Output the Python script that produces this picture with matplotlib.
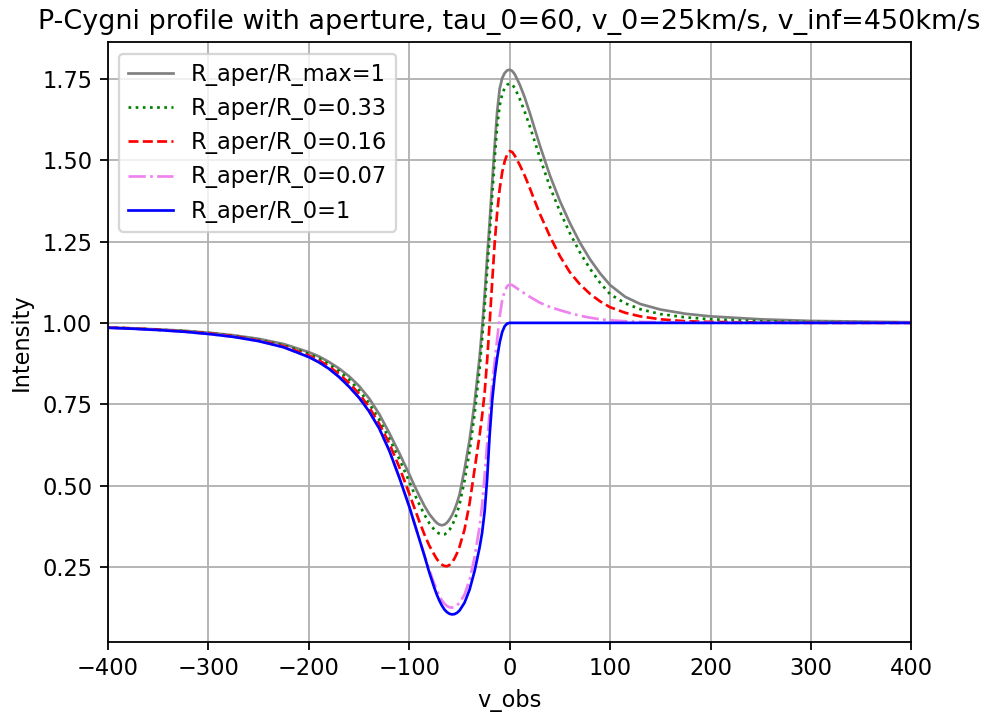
import matplotlib
matplotlib.use("Agg")
import matplotlib.pyplot as plt

# observed velocity grid (km/s)
v_obs = [-400, -375, -350, -325, -300, -275, -250, -225, -200,
         -190, -180, -170, -160, -150, -140, -130, -120, -110, -100,
         -95, -90, -85, -80, -75,
         -72.5, -70, -67.5, -65, -62.5, -60, -57.5, -55, -52.5, -50,
         -45, -40, -35, -30,
         -27.5, -25, -22.5, -20, -17.5, -15, -12.5, -10, -7.5, -5, -2.5,
         0, 2.5, 5,
         10, 15, 20, 25, 30,
         40, 50, 60, 70, 80, 90, 100,
         115, 130, 150, 175, 200,
         250, 300, 350, 400]

I_max_full = [0.986, 0.983, 0.980, 0.976, 0.970, 0.962, 0.951, 0.935, 0.910,
              0.897, 0.880, 0.860, 0.836, 0.806, 0.768, 0.720, 0.662, 0.600, 0.535,
              0.500, 0.468, 0.438, 0.412, 0.393,
              0.385, 0.380, 0.378, 0.380, 0.386, 0.396, 0.409, 0.426, 0.447, 0.472,
              0.550, 0.640, 0.755, 0.895,
              0.985, 1.085, 1.200, 1.310, 1.430, 1.545, 1.650, 1.720, 1.752, 1.768, 1.776,
              1.778, 1.774, 1.764,
              1.732, 1.692, 1.645, 1.595, 1.545,
              1.453, 1.374, 1.306, 1.246, 1.195, 1.152, 1.116,
              1.080, 1.058, 1.041, 1.028, 1.020,
              1.011, 1.006, 1.004, 1.002]

I_033 = [0.986, 0.983, 0.979, 0.975, 0.969, 0.960, 0.948, 0.931, 0.905,
         0.891, 0.873, 0.852, 0.826, 0.793, 0.753, 0.703, 0.645, 0.582, 0.512,
         0.475, 0.442, 0.411, 0.384, 0.364,
         0.357, 0.352, 0.349, 0.350, 0.355, 0.364, 0.377, 0.394, 0.416, 0.442,
         0.515, 0.605, 0.720, 0.860,
         0.950, 1.050, 1.160, 1.270, 1.390, 1.505, 1.605, 1.668, 1.703, 1.722, 1.732,
         1.736, 1.732, 1.722,
         1.688, 1.648, 1.604, 1.556, 1.508,
         1.418, 1.342, 1.275, 1.216, 1.166, 1.123, 1.088,
         1.060, 1.042, 1.027, 1.017, 1.011,
         1.005, 1.003, 1.002, 1.001]

I_016 = [0.986, 0.983, 0.979, 0.974, 0.968, 0.959, 0.946, 0.928, 0.900,
         0.885, 0.866, 0.843, 0.815, 0.782, 0.741, 0.690, 0.630, 0.557, 0.475,
         0.432, 0.390, 0.350, 0.315, 0.287,
         0.274, 0.264, 0.257, 0.253, 0.252, 0.256, 0.264, 0.276, 0.292, 0.312,
         0.365, 0.445, 0.550, 0.655,
         0.715, 0.785, 0.885, 1.000, 1.125, 1.245, 1.340, 1.412, 1.463, 1.497, 1.518,
         1.528, 1.525, 1.514,
         1.485, 1.452, 1.414, 1.374, 1.335,
         1.266, 1.205, 1.155, 1.118, 1.089, 1.066, 1.048,
         1.031, 1.020, 1.011, 1.005, 1.003,
         1.001, 1.000, 1.000, 1.000]

I_007 = [0.985, 0.982, 0.978, 0.973, 0.966, 0.957, 0.944, 0.925, 0.895,
         0.879, 0.859, 0.834, 0.804, 0.770, 0.728, 0.676, 0.608, 0.525, 0.435,
         0.385, 0.336, 0.287, 0.240, 0.197,
         0.178, 0.161, 0.147, 0.137, 0.130, 0.126, 0.125, 0.127, 0.132, 0.140,
         0.165, 0.210, 0.280, 0.375,
         0.440, 0.530, 0.630, 0.725, 0.810, 0.880, 0.950, 1.020, 1.070, 1.098, 1.113,
         1.118, 1.116, 1.111,
         1.100, 1.090, 1.080, 1.071, 1.062,
         1.049, 1.039, 1.030, 1.022, 1.016, 1.011, 1.008,
         1.005, 1.003, 1.002, 1.001, 1.000,
         1.000, 1.000, 1.000, 1.000]

I_r0_1 = [0.985, 0.982, 0.978, 0.973, 0.966, 0.957, 0.944, 0.925, 0.895,
          0.879, 0.859, 0.834, 0.804, 0.770, 0.728, 0.676, 0.608, 0.525, 0.435,
          0.385, 0.335, 0.285, 0.232, 0.185,
          0.164, 0.146, 0.131, 0.119, 0.111, 0.106, 0.104, 0.105, 0.109, 0.116,
          0.140, 0.180, 0.237, 0.310,
          0.355, 0.420, 0.520, 0.655, 0.760, 0.835, 0.893, 0.940, 0.972, 0.990, 0.998,
          1.000, 1.000, 1.000,
          1.000, 1.000, 1.000, 1.000, 1.000,
          1.000, 1.000, 1.000, 1.000, 1.000, 1.000, 1.000,
          1.000, 1.000, 1.000, 1.000, 1.000,
          1.000, 1.000, 1.000, 1.000]

DPI = 162
fig = plt.figure(figsize=(987 / DPI, 714 / DPI), dpi=DPI)
ax = fig.add_axes([0.1094, 0.1013, 0.8141, 0.8392])

LW = 1.2
ax.plot(v_obs, I_max_full, color="grey", ls="-", lw=LW, label="R_aper/R_max=1")
ax.plot(v_obs, I_033, color="green", ls=":", lw=LW, label="R_aper/R_0=0.33")
ax.plot(v_obs, I_016, color="red", ls="--", lw=LW, label="R_aper/R_0=0.16")
ax.plot(v_obs, I_007, color="violet", ls="-.", lw=LW, label="R_aper/R_0=0.07")
ax.plot(v_obs, I_r0_1, color="blue", ls="-", lw=LW, label="R_aper/R_0=1")

ax.set_xlim(-400, 400)
ax.set_xlabel("v_obs")
ax.set_ylabel("Intensity")
ax.set_title("P-Cygni profile with aperture, tau_0=60, v_0=25km/s, v_inf=450km/s")
ax.grid(True)
ax.legend(loc="upper left")

fig.savefig("out.png", dpi=DPI)
